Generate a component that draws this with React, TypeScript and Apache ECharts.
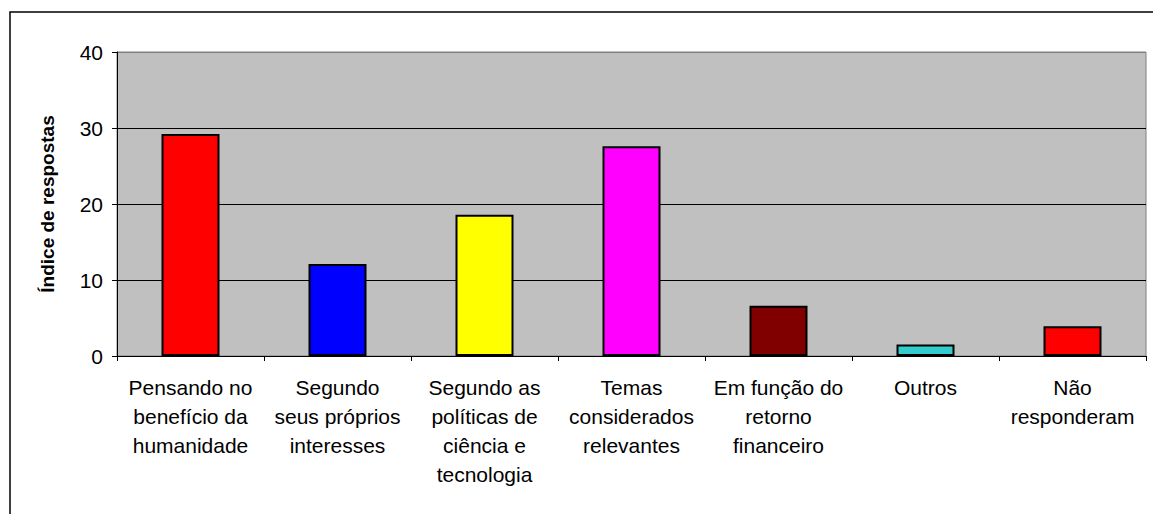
import React, { useEffect, useRef } from "react";
import * as echarts from "echarts";

const categories = [
  "Pensando no\nbenefício da\nhumanidade",
  "Segundo\nseus próprios\ninteresses",
  "Segundo as\npolíticas de\nciência e\ntecnologia",
  "Temas\nconsiderados\nrelevantes",
  "Em função do\nretorno\nfinanceiro",
  "Outros",
  "Não\nresponderam",
];
const values = [29.2, 12.1, 18.6, 27.6, 6.6, 1.5, 3.9];
const barColors = ["#FF0000", "#0000FF", "#FFFF00", "#FF00FF", "#800000", "#33CCCC", "#FF0000"];
const yTicks = { min: 0, max: 40, interval: 10 };
const yName = "Índice de respostas";

export default function App() {
  const ref = useRef<HTMLDivElement>(null);
  useEffect(() => {
    if (!ref.current) return;
    const chart = echarts.init(ref.current, null, { renderer: "svg" });
    const font = "Arial, 'Liberation Sans', sans-serif";
    chart.setOption({
      animation: false,
      backgroundColor: "#ffffff",
      graphic: [
        {
          type: "rect",
          shape: { x: 10, y: 12, width: 1300, height: 700 },
          style: { fill: "none", stroke: "#000000", lineWidth: 1.5 },
          silent: true,
          z: 0,
        },
      ],
      grid: {
        left: 117,
        top: 52,
        right: 7,
        bottom: 158,
        show: true,
        backgroundColor: "#C0C0C0",
        borderColor: "#808080",
        borderWidth: 1,
      },
      xAxis: {
        type: "category",
        data: categories,
        axisLine: { lineStyle: { color: "#000000", width: 1 } },
        axisTick: { show: true, length: 5, lineStyle: { color: "#000000" } },
        axisLabel: {
          color: "#000000",
          fontFamily: font,
          fontSize: 21,
          lineHeight: 29,
          margin: 17,
          interval: 0,
        },
      },
      yAxis: {
        type: "value",
        min: yTicks.min,
        max: yTicks.max,
        interval: yTicks.interval,
        name: yName,
        nameLocation: "middle",
        nameGap: 60,
        nameTextStyle: {
          color: "#000000",
          fontFamily: font,
          fontSize: 19,
          fontWeight: "bold",
        },
        axisLine: { show: true, lineStyle: { color: "#000000", width: 1 } },
        axisTick: { show: true, length: 5, lineStyle: { color: "#000000" } },
        axisLabel: { color: "#000000", fontFamily: font, fontSize: 21, margin: 14 },
        splitLine: {
          show: true,
          lineStyle: {
            color: ["#000000", "#000000", "#000000", "#000000", "#808080"],
            width: 1,
          },
        },
      },
      series: [
        {
          type: "bar",
          data: values.map((v, i) => ({
            value: v,
            itemStyle: { color: barColors[i] },
          })),
          barWidth: 58,
          itemStyle: { borderColor: "#000000", borderWidth: 2 },
        },
      ],
    });
    return () => chart.dispose();
  }, []);
  return (
    <div
      ref={ref}
      style={{ position: "fixed", left: 0, top: 0, width: 1153, height: 514 }}
    />
  );
}
